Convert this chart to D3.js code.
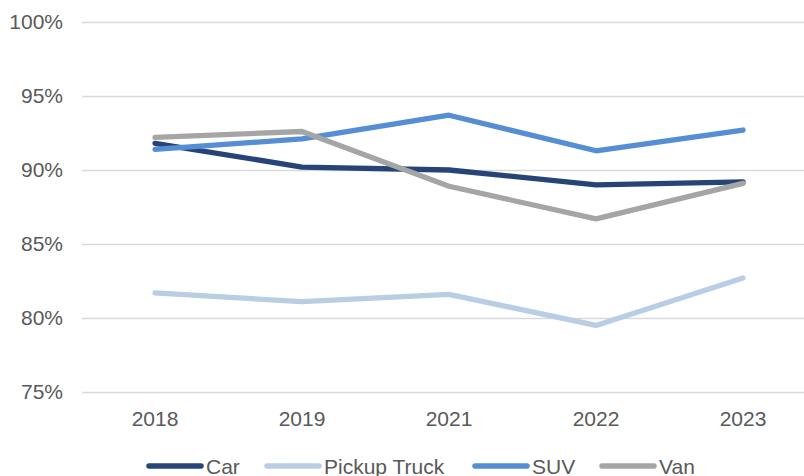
<!DOCTYPE html>
<html>
<head>
<meta charset="utf-8">
<script src="https://cdn.jsdelivr.net/npm/d3@7"></script>
<style>
  body { margin: 0; background: #fff; }
  svg { display: block; }
</style>
</head>
<body>
<script>
// chart data
var years = ["2018", "2019", "2021", "2022", "2023"];
var seriesNames = ["Car", "Pickup Truck", "SUV", "Van"];
var carValues = [91.8, 90.2, 90.0, 89.0, 89.2];
var pickupValues = [81.7, 81.1, 81.6, 79.5, 82.7];
var suvValues = [91.4, 92.1, 93.7, 91.3, 92.7];
var vanValues = [92.2, 92.6, 88.9, 86.7, 89.1];
var yTicks = [75, 80, 85, 90, 95, 100];

var colors = ["#264478", "#b9cde5", "#558ed5", "#a5a5a5"];
var series = [carValues, pickupValues, suvValues, vanValues];

var width = 804, height = 476;
var fontFam = "Liberation Sans, Arial, sans-serif";

var svg = d3.select("body").append("svg")
    .attr("width", width)
    .attr("height", height);

// scales
var x = d3.scaleBand()
    .domain(years)
    .range([81.5, 816.5])
    .padding(0);

var y = d3.scaleLinear()
    .domain([75, 100])
    .range([392, 22]);

// gridlines
svg.append("g")
    .selectAll("line")
    .data(yTicks)
    .enter()
    .append("line")
    .attr("x1", 82)
    .attr("x2", width)
    .attr("y1", d => Math.round(y(d)) + 0.5)
    .attr("y2", d => Math.round(y(d)) + 0.5)
    .attr("stroke", "#d9d9d9")
    .attr("stroke-width", 1.3);

// y labels
svg.append("g")
    .selectAll("text")
    .data(yTicks)
    .enter()
    .append("text")
    .attr("x", 63)
    .attr("y", d => y(d))
    .attr("dy", "0.35em")
    .attr("text-anchor", "end")
    .attr("font-family", fontFam)
    .attr("font-size", "21px")
    .attr("fill", "#595959")
    .text(d => d + "%");

// x labels
svg.append("g")
    .selectAll("text")
    .data(years)
    .enter()
    .append("text")
    .attr("x", d => x(d) + x.bandwidth() / 2)
    .attr("y", 426)
    .attr("text-anchor", "middle")
    .attr("font-family", fontFam)
    .attr("font-size", "21px")
    .attr("fill", "#595959")
    .text(d => d);

// lines
var line = d3.line()
    .x((d, i) => x(years[i]) + x.bandwidth() / 2)
    .y(d => y(d));

svg.append("g")
    .selectAll("path")
    .data(series)
    .enter()
    .append("path")
    .attr("d", line)
    .attr("fill", "none")
    .attr("stroke", (d, i) => colors[i])
    .attr("stroke-width", 5.3)
    .attr("stroke-linecap", "round")
    .attr("stroke-linejoin", "round");

// legend
var legendX = [147, 265, 473, 600];
var legend = svg.append("g")
    .selectAll("g")
    .data(seriesNames)
    .enter()
    .append("g")
    .attr("transform", (d, i) => "translate(" + legendX[i] + ",466)");

legend.append("line")
    .attr("x1", 2)
    .attr("x2", 54)
    .attr("stroke", (d, i) => colors[i])
    .attr("stroke-width", 5.5)
    .attr("stroke-linecap", "round");

legend.append("text")
    .attr("x", 59)
    .attr("y", 7.5)
    .attr("font-family", fontFam)
    .attr("font-size", "21px")
    .attr("fill", "#595959")
    .text(d => d);
</script>
</body>
</html>
